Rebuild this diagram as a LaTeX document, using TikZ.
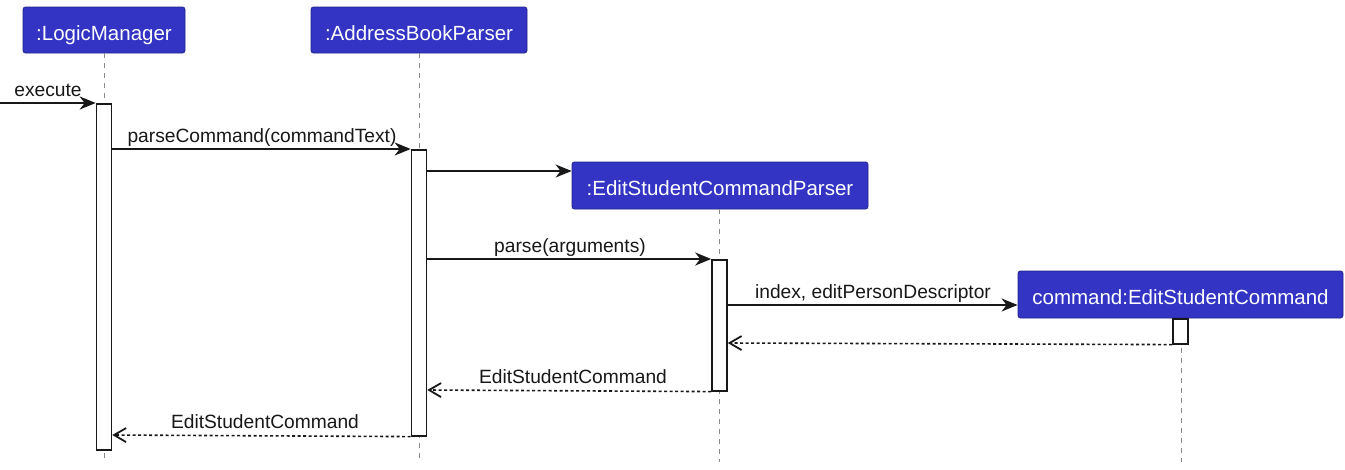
\documentclass[tikz,border=0pt]{standalone}
\usepackage{fontspec}
\setmainfont{Liberation Sans}
\usetikzlibrary{arrows.meta}
\definecolor{headfill}{HTML}{3333C4}
\definecolor{headdraw}{HTML}{23238C}
\definecolor{ink}{HTML}{181818}
\definecolor{lifegray}{HTML}{8A8A8A}
\tikzset{
  head/.style={draw=headdraw, line width=0.8pt, fill=headfill, text=white, rounded corners=2.5pt,
    inner sep=0pt, text height=20pt, text depth=0pt, font=\fontsize{20.5}{24}\selectfont},
  act/.style={draw=ink, line width=1.6pt, fill=white, minimum width=15pt, inner sep=0pt, anchor=north},
  lifeline/.style={draw=lifegray, line width=1pt, dash pattern=on 5pt off 5pt},
  msg/.style={draw=ink, line width=1.6pt, -{Stealth[length=16pt,width=13pt,inset=5pt]}},
  ret/.style={draw=ink, line width=1.6pt, dash pattern=on 3pt off 2.5pt, -{Straight Barb[length=12pt,width=14pt,line width=1.8pt]}},
  lbl/.style={anchor=base, inner sep=0pt, text=ink, font=\fontsize{19.2}{23}\selectfont}
}
\begin{document}
\begin{tikzpicture}[x=1pt,y=-1pt]
\useasboundingbox[fill=white] (0,0) rectangle (1345,469);
% heads
\node[head, minimum width=162pt, minimum height=46pt] (lm) at (104,30) {:LogicManager};
\node[head, minimum width=216pt, minimum height=46pt] (abp) at (419,30) {:AddressBookParser};
\node[head, minimum width=296pt, minimum height=47pt] (escp) at (720,185.5) {:EditStudentCommandParser};
\node[head, minimum width=325pt, minimum height=47pt] (cmd) at (1180.5,294.5) {command:EditStudentCommand};
% lifeline ends
\coordinate (lmE) at (104,462);
\coordinate (abpE) at (419,462);
\coordinate (escpE) at (719,462);
\coordinate (cmdE) at (1181,462);
\draw[lifeline] (lm.south -| lmE) -- (lmE);
\draw[lifeline] (abp.south -| abpE) -- (abpE);
\draw[lifeline] (escp.south -| escpE) -- (escpE);
\draw[lifeline] (cmd.south -| cmdE) -- (cmdE);
% activations
\node[act, minimum height=346pt] (lmA) at (104,103) {};
\node[act, minimum height=286pt] (abpA) at (419,149) {};
\node[act, minimum height=131pt] (escpA) at (719.5,259) {};
\node[act, minimum height=25pt] (cmdA) at (1180.5,318) {};
% message rows
\coordinate (start) at (0,103);
\coordinate (r3) at (0,171);
\coordinate (r5) at (0,305);
\coordinate (r6) at (0,343);
\coordinate (r7) at (0,390);
\coordinate (r8) at (0,435);
% messages
\draw[msg] (start) -- (lmA.north west);
\node[lbl] (l1) at (48,96) {execute};
\draw[msg] (lmA.east |- abpA.north) -- (abpA.north west);
\node[lbl] (l2) at (262,142) {parseCommand(commandText)};
\draw[msg] (abpA.east |- r3) -- (escp.west |- r3);
\draw[msg] (abpA.east |- escpA.north) -- (escpA.north west);
\node[lbl] (l4) at (570,252) {parse(arguments)};
\draw[msg] (escpA.east |- r5) -- (cmd.west |- r5);
\node[lbl] (l5) at (873,298) {index, editPersonDescriptor};
\draw[ret] (cmdA.south west) -- (escpA.east |- r6);
\draw[ret] (escpA.south west) -- (abpA.east |- r7);
\node[lbl] (l7) at (573,383) {EditStudentCommand};
\draw[ret] (abpA.south west) -- (lmA.east |- r8);
\node[lbl] (l8) at (265,428) {EditStudentCommand};
\end{tikzpicture}
\end{document}
